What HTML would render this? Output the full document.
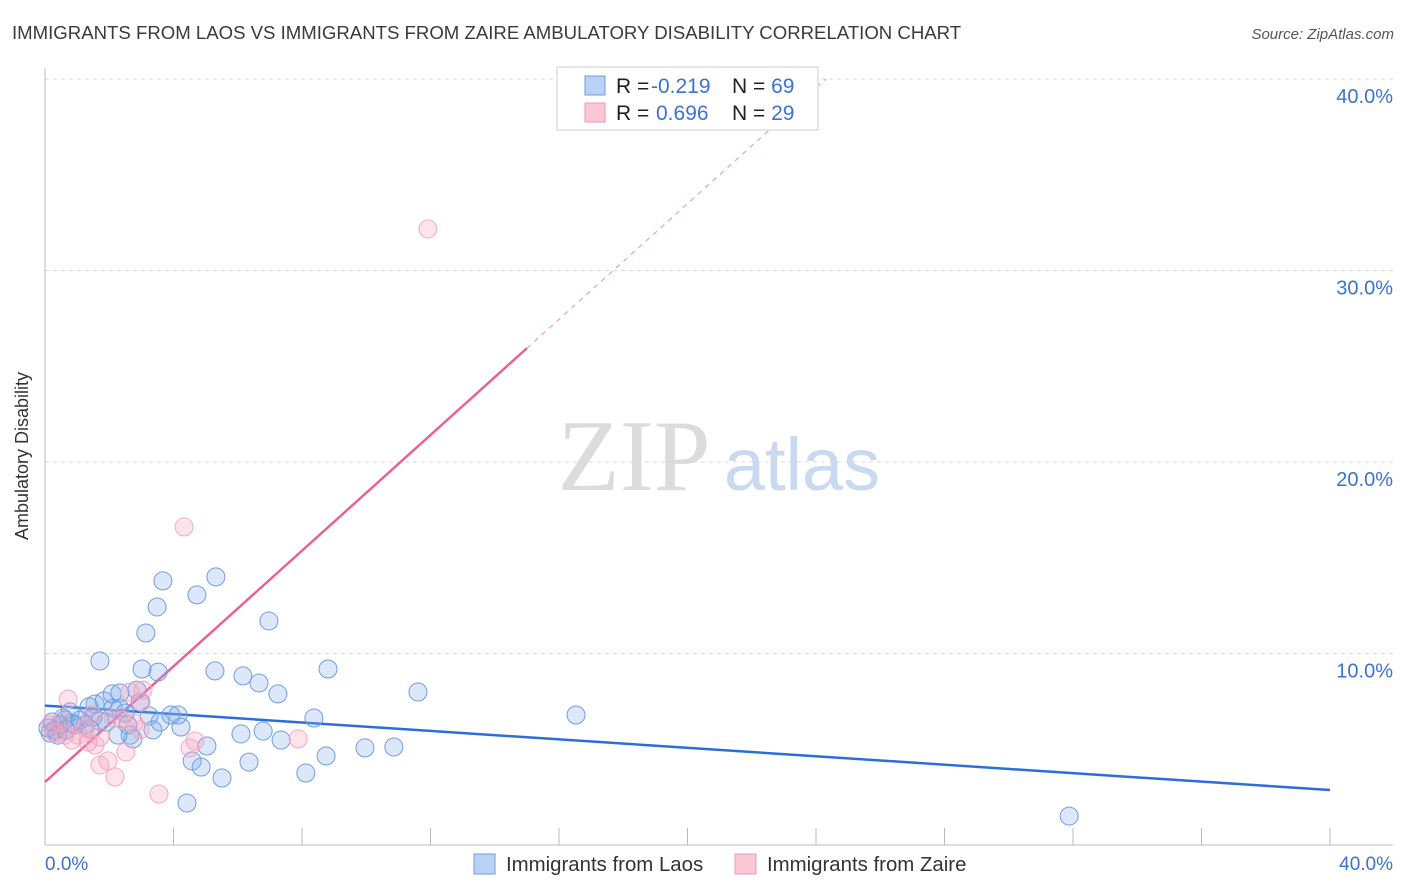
<!DOCTYPE html>
<html><head><meta charset="utf-8">
<style>
body{margin:0;background:#fff;font-family:"Liberation Sans",sans-serif;}
svg{display:block}
</style></head>
<body>
<svg id="chart" width="1406" height="892">
<text x="12" y="39" font-size="18.6" fill="#3a3a3a">IMMIGRANTS FROM LAOS VS IMMIGRANTS FROM ZAIRE AMBULATORY DISABILITY CORRELATION CHART</text>
<text x="1394" y="39" font-size="15" fill="#555" font-style="italic" text-anchor="end">Source: ZipAtlas.com</text>
<text x="28" y="456" font-size="18" fill="#333" text-anchor="middle" transform="rotate(-90 28 456)">Ambulatory Disability</text>
<g>
<text x="634" y="490" font-size="102" fill="#dcdcdc" font-family="Liberation Serif,serif" text-anchor="middle">ZIP</text>
<text x="802" y="490" font-size="74" fill="#c9d9f0" text-anchor="middle">atlas</text>
</g>
<g id="grid"></g>
<g id="axes"></g>
<g id="trend"></g>
<g id="points"></g>
<g>
<rect x="557" y="67" width="261" height="63" fill="#fff" stroke="#ddd" stroke-width="1.5"/>
<rect x="585" y="76" width="20" height="19" fill="#b9d1f5" stroke="#6f9be0"/>
<rect x="585" y="103" width="20" height="19" fill="#fbc8d6" stroke="#eb9ab3"/>
<text x="616" y="93" font-size="21" fill="#222">R = <tspan fill="#3b73d0" x="651">-0.219</tspan><tspan x="732">N = </tspan><tspan fill="#3b73d0">69</tspan></text>
<text x="616" y="120" font-size="21" fill="#222">R = <tspan fill="#3b73d0" x="656">0.696</tspan><tspan x="732">N = </tspan><tspan fill="#3b73d0">29</tspan></text>
</g>
<g>
<rect x="474" y="854" width="21" height="20" fill="#b9d1f5" stroke="#6f9be0"/>
<text x="506" y="871" font-size="20.4" fill="#333">Immigrants from Laos</text>
<rect x="735" y="854" width="21" height="20" fill="#fbc8d6" stroke="#eb9ab3"/>
<text x="767" y="871" font-size="20.4" fill="#333">Immigrants from Zaire</text>
</g>
</svg>
<script>
const yTicks=[10,20,30,40];
const yTickLabels=["10.0%","20.0%","30.0%","40.0%"];
const xTickLabels=["0.0%","40.0%"];
const laosX=[1.71,3.14,3.49,3.67,4.73,5.32,6.97,8.81,11.61,16.53,31.88,3.02,3.52,5.29,6.16,6.66,7.25,5.04,6.10,6.79,7.35,8.12,8.75,9.96,10.86,4.58,4.86,5.51,6.35,4.42,8.37,4.14,4.23,3.92,3.24,3.58,3.36,2.74,2.65,2.12,1.56,1.84,2.33,2.49,2.09,1.37,1.09,0.84,0.62,0.47,0.31,0.16,0.09,0.40,1.25,1.49,1.71,0.78,2.86,2.58,2.96,2.33,0.56,0.93,1.40,1.90,0.22,0.65,2.27];
const laosY=[9.61,11.07,12.43,13.79,13.06,14.00,11.70,9.19,7.99,6.79,1.51,9.19,9.03,9.09,8.83,8.46,7.89,5.17,5.80,5.95,5.48,3.76,4.65,5.07,5.12,4.39,4.07,3.50,4.33,2.19,6.63,6.79,6.16,6.79,6.74,6.42,6.01,5.54,5.74,7.15,7.36,7.52,7.15,6.89,7.89,7.21,6.53,6.37,6.53,6.27,6.01,5.85,6.11,5.74,6.27,6.68,6.48,6.95,8.09,6.27,7.47,7.94,6.63,6.27,6.06,6.42,6.42,6.01,5.74];
const zaireX=[11.92,4.33,0.72,3.05,2.65,2.99,2.77,1.71,1.34,0.84,1.03,1.56,1.96,1.71,2.18,2.52,3.55,4.51,4.67,7.88,2.40,0.47,0.16,1.25,2.12,0.31,0.62,2.96,1.46];
const zaireY=[32.17,16.61,7.62,8.09,7.99,7.47,6.37,5.64,5.38,5.48,5.74,5.22,4.39,4.18,3.55,4.86,2.66,5.07,5.43,5.54,6.53,6.42,6.27,6.11,6.63,5.85,5.74,6.01,6.79];
const laosTrend=[7.28,2.87];      // y at x=0 and x=40
const zaireTrend=[3.29,1.51];     // intercept, slope
const zaireSolidEnd=15.0;

const X0=45,X1=1330,Y0=845,Y40=79;
const xs=v=>X0+(v/40)*(X1-X0);
const ys=v=>Y0-(v/40)*(Y0-Y40);
const NS="http://www.w3.org/2000/svg";
function mk(tag,attrs,parent){const e=document.createElementNS(NS,tag);for(const k in attrs)e.setAttribute(k,attrs[k]);parent.appendChild(e);return e;}
const grid=document.getElementById('grid'),axes=document.getElementById('axes'),trend=document.getElementById('trend'),pts=document.getElementById('points');
yTicks.forEach((t,i)=>{
 const l=mk('line',{x1:X0,x2:1393,y1:ys(t),y2:ys(t),stroke:'#d8d8d8','stroke-dasharray':'4,4'},grid);
 
 
 const tx=mk('text',{x:1393,y:ys(t)+24,'font-size':20,fill:'#3b73d0','text-anchor':'end'},axes);
 tx.textContent=yTickLabels[i];
 
 
});
const ax=mk('line',{x1:X0,x2:1393,y1:Y0,y2:Y0,stroke:'#bbb'},axes);


const ay=mk('line',{x1:X0,x2:X0,y1:68,y2:Y0,stroke:'#bbb'},axes);


for(let i=0;i<=10;i++){
 const t=mk('line',{x1:xs(i*4),x2:xs(i*4),y1:828,y2:Y0,stroke:'#bbb'},axes);
 
 
}
const xl0=mk('text',{x:45,y:870,'font-size':19,fill:'#3b73d0'},axes);xl0.textContent=xTickLabels[0];


const xl1=mk('text',{x:1393,y:870,'font-size':19,fill:'#3b73d0','text-anchor':'end'},axes);xl1.textContent=xTickLabels[1];



const bl=mk('line',{x1:xs(0),y1:ys(laosTrend[0]),x2:xs(40),y2:ys(laosTrend[1]),stroke:'#2a6fd6','stroke-width':2.5},trend);


const zy=x=>zaireTrend[0]+zaireTrend[1]*x;
const xEnd=Math.min(40,(40-zaireTrend[0])/zaireTrend[1]);
const pd=mk('line',{x1:xs(zaireSolidEnd),y1:ys(zy(zaireSolidEnd)),x2:xs(xEnd),y2:ys(zy(xEnd)),stroke:'#eaa0b8','stroke-width':1.2,'stroke-dasharray':'5,5'},trend);


const ps=mk('line',{x1:xs(0),y1:ys(zy(0)),x2:xs(zaireSolidEnd),y2:ys(zy(zaireSolidEnd)),stroke:'#e8648f','stroke-width':2.5},trend);



laosX.forEach((x,i)=>{
 const c=mk('circle',{cx:xs(x),cy:ys(laosY[i]),r:9,fill:'rgba(130,172,235,0.28)',stroke:'#6f9de2','stroke-width':1},pts);
 
 
});
zaireX.forEach((x,i)=>{
 const c=mk('circle',{cx:xs(x),cy:ys(zaireY[i]),r:9,fill:'rgba(245,155,185,0.28)',stroke:'#f0abc1','stroke-width':1},pts);
 
 
});
</script>
</body></html>
